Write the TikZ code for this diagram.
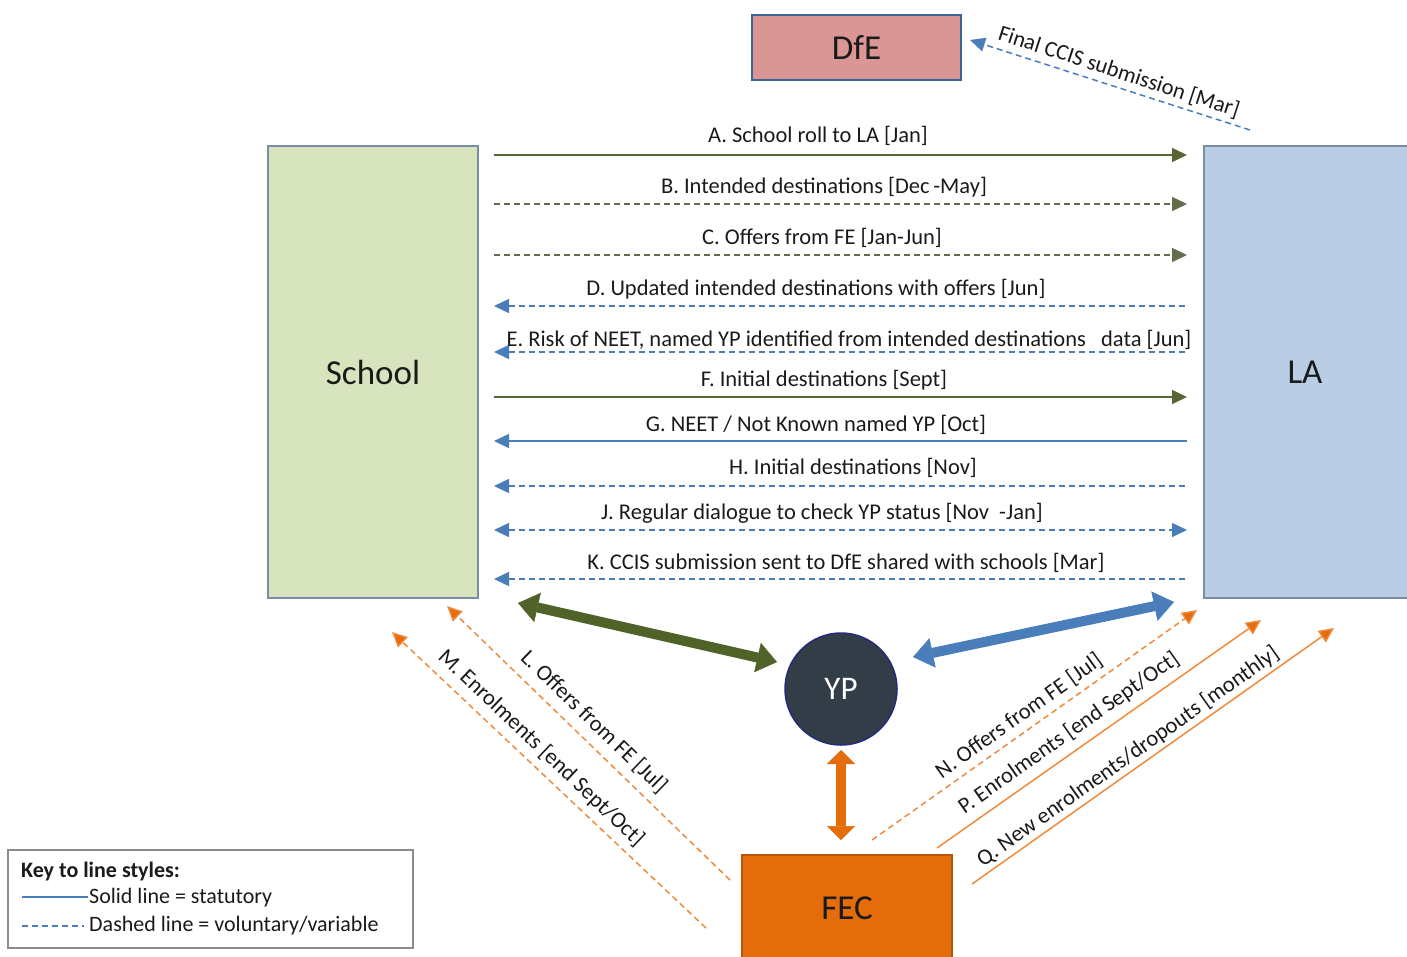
\documentclass[tikz,border=0pt]{standalone}
\usepackage{fontspec}
\setmainfont{Carlito}
\usetikzlibrary{arrows.meta}
\definecolor{txt}{HTML}{1A1A1A}
\definecolor{boxline}{HTML}{7A8DA6}
\definecolor{schoolfill}{HTML}{D7E4BD}
\definecolor{lafill}{HTML}{B9CDE5}
\definecolor{dfefill}{HTML}{D99694}
\definecolor{fecfill}{HTML}{E46C0A}
\definecolor{ypfill}{HTML}{333D47}
\definecolor{grn}{HTML}{4F6228}
\definecolor{blu}{HTML}{4A7EBB}
\definecolor{org}{HTML}{F08A3C}
\definecolor{orgd}{HTML}{E46C0A}
\definecolor{keyline}{HTML}{8C8C8C}
\tikzset{
  lbl/.style={font=\fontsize{22.5}{26}\selectfont, text=txt, inner sep=0pt},
  boxlbl/.style={draw=boxline, line width=1.5pt, font=\fontsize{35}{40}\selectfont, text=txt, inner sep=0pt},
  flowr/.style={line width=1.5pt, -{Triangle[length=15pt,width=14pt]}},
  flowl/.style={line width=1.5pt, {Triangle[length=15pt,width=14pt]}-},
  flowb/.style={line width=1.5pt, {Triangle[length=15pt,width=14pt]}-{Triangle[length=15pt,width=14pt]}},
  dsh/.style={dash pattern=on 6pt off 4pt},
  bigarrow/.style={line width=10pt, {Triangle[length=20pt,width=30pt,line width=0.5pt]}-{Triangle[length=20pt,width=30pt,line width=0.5pt]}},
}
\begin{document}
\begin{tikzpicture}[x=1pt,y=-1pt]
\useasboundingbox (0,0) rectangle (1407,956);
% boxes
\node[boxlbl, fill=dfefill, draw=blu!80!black, minimum width=209pt, minimum height=65pt] (dfe) at (856.5,47.5) {DfE};
\node[boxlbl, fill=schoolfill, minimum width=210pt, minimum height=452pt] (school) at (373,372) {School};
\node[boxlbl, fill=lafill, minimum width=210pt, minimum height=452pt] (la) at (1309,372) {\hspace*{-8pt}LA};
\node[boxlbl, fill=fecfill, draw=fecfill!80!black, minimum width=210pt, minimum height=106pt] (fec) at (847,908) {FEC};
\node[circle, fill=ypfill, draw=ypfill!70!blue, line width=1.5pt, minimum size=112pt, inner sep=0pt, text=white, font=\fontsize{33}{38}\selectfont] (yp) at (841,689) {YP};

% horizontal flows
\foreach \n/\y in {A/155,B/204,C/255,D/306,E/352,F/397,G/441,H/486,J/530,K/579}{
  \coordinate (s\n) at (494,\y);
  \coordinate (l\n) at (1187,\y);
}
\draw[flowr, grn, draw=grn!85!gray] (sA) -- (lA);
\draw[flowr, grn, dsh, draw=grn!60!gray] (sB) -- (lB);
\draw[flowr, grn, dsh, draw=grn!60!gray] (sC) -- (lC);
\draw[flowl, blu, dsh] (sD) -- (lD);
\draw[flowl, blu, dsh] (sE) -- (lE);
\draw[flowr, grn, draw=grn!85!gray] (sF) -- (lF);
\draw[flowl, blu] (sG) -- (lG);
\draw[flowl, blu, dsh] (sH) -- (lH);
\draw[flowb, blu, dsh] (sJ) -- (lJ);
\draw[flowl, blu, dsh] (sK) -- (lK);

\node[lbl] (tA) at (818,136) {A. School roll to LA [Jan]};
\node[lbl] (tB) at (824,187) {B. Intended destinations [Dec\,-May]};
\node[lbl] (tC) at (822,238) {C. Offers from FE [Jan-Jun]};
\node[lbl] (tD) at (816,289) {D. Updated intended destinations with offers [Jun]};
\node[lbl] (tE) at (849,340) {E. Risk of NEET, named YP identified from intended destinations\ \ \ data [Jun]};
\node[lbl] (tF) at (824,380) {F. Initial destinations [Sept]};
\node[lbl] (tG) at (816,425) {G. NEET / Not Known named YP [Oct]};
\node[lbl] (tH) at (853,468) {H. Initial destinations [Nov]};
\node[lbl] (tJ) at (822,513) {J. Regular dialogue to check YP status [Nov\ \ -Jan]};
\node[lbl] (tK) at (846,563) {K. CCIS submission sent to DfE shared with schools [Mar]};

% DfE submission
\coordinate (dfeS) at (1250,130);
\coordinate (dfeE) at (970,40);
\draw[flowr, blu, dsh] (dfeS) -- (dfeE);
\node[lbl, rotate=-18] (tDfE) at (1119,72) {Final CCIS submission [Mar]};

% thick arrows
\draw[bigarrow, grn] (518,603) coordinate (gS) -- (777,662) coordinate (gE);
\draw[bigarrow, blu] (913,657) coordinate (bS) -- (1174,602) coordinate (bE);
\draw[line width=10pt, orgd, {Triangle[length=14pt,width=28pt,line width=0.5pt]}-{Triangle[length=14pt,width=28pt,line width=0.5pt]}] (841,750) coordinate (oS) -- (841,840) coordinate (oE);

% diagonal FEC flows
\coordinate (Ls) at (730,880); \coordinate (Le) at (447,606);
\coordinate (Ms) at (706,928); \coordinate (Me) at (392,632);
\coordinate (Ns) at (872,840); \coordinate (Ne) at (1197,610);
\coordinate (Ps) at (937,848); \coordinate (Pe) at (1261,620);
\coordinate (Qs) at (972,884); \coordinate (Qe) at (1334,628);
\tikzset{oflow/.style={line width=1.5pt, draw=org, -{Triangle[length=15pt,width=14pt,fill=orgd]}}}
\draw[oflow, dsh] (Ls) -- (Le);
\draw[oflow, dsh] (Ms) -- (Me);
\draw[oflow, dsh] (Ns) -- (Ne);
\draw[oflow] (Ps) -- (Pe);
\draw[oflow] (Qs) -- (Qe);
\node[lbl, rotate=-44] (tL) at (594,722) {L. Offers from FE [Jul]};
\node[lbl, rotate=-43.5] (tM) at (541,748) {M. Enrolments [end Sept/Oct]};
\node[lbl, rotate=35.5] (tN) at (1019,716) {N. Offers from FE [Jul]};
\node[lbl, rotate=35.2] (tP) at (1069,733) {P. Enrolments [end Sept/Oct]};
\node[lbl, rotate=35.3] (tQ) at (1128,757) {Q. New enrolments/dropouts [monthly]};

% key
\node[draw=keyline, line width=1.5pt, minimum width=405pt, minimum height=98pt, inner sep=0pt] (key) at (210.5,899) {};
\node[lbl, anchor=west, font=\fontsize{22}{26}\selectfont\bfseries] (k1) at (21,871) {Key to line styles:};
\coordinate (k2a) at (22,897); \coordinate (k2b) at (88,897);
\draw[blu, line width=1.5pt] (k2a) -- (k2b);
\node[lbl, anchor=west, font=\fontsize{22}{26}\selectfont] (k2) at (89,898) {Solid line = statutory};
\coordinate (k3a) at (22,926); \coordinate (k3b) at (84,926);
\draw[blu, line width=1.5pt, dsh] (k3a) -- (k3b);
\node[lbl, anchor=west, font=\fontsize{22}{26}\selectfont] (k3) at (89,926) {Dashed line = voluntary/variable};
\end{tikzpicture}
\end{document}
